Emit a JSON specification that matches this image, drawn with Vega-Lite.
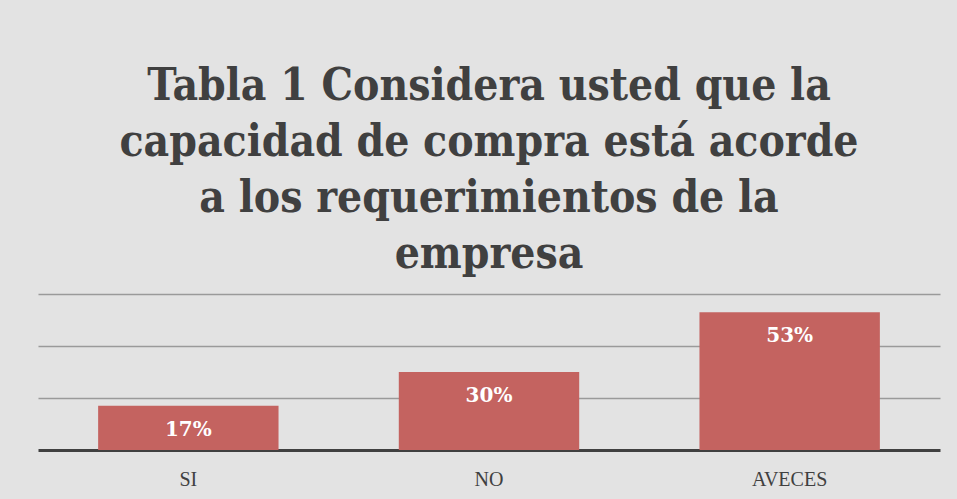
{
  "$schema": "https://vega.github.io/schema/vega-lite/v6.json",
  "width": 902,
  "height": 156,
  "padding": {"left": 38, "right": 17, "top": 65, "bottom": 11},
  "background": "#e3e3e3",
  "title": {
    "text": ["Tabla 1 Considera usted que la", "capacidad de compra está acorde", "a los requerimientos de la", "empresa"],
    "anchor": "middle",
    "font": "DejaVu Serif Condensed",
    "fontSize": 44,
    "fontWeight": "bold",
    "color": "#404040",
    "lineHeight": 56,
    "offset": 17
  },
  "data": {
    "values": [
      {"categoria": "SI", "porcentaje": 0.17},
      {"categoria": "NO", "porcentaje": 0.30},
      {"categoria": "AVECES", "porcentaje": 0.53}
    ]
  },
  "encoding": {
    "x": {
      "field": "categoria",
      "type": "nominal",
      "sort": ["SI", "NO", "AVECES"],
      "scale": {"paddingInner": 0.4, "paddingOuter": 0.2},
      "axis": {
        "title": null,
        "labelAngle": 0,
        "labelFont": "Liberation Serif",
        "labelFontSize": 20,
        "labelColor": "#404040",
        "labelPadding": 19,
        "ticks": false,
        "domainColor": "#404040",
        "domainWidth": 3
      }
    },
    "y": {
      "field": "porcentaje",
      "type": "quantitative",
      "scale": {"domain": [0, 0.6]},
      "axis": {
        "title": null,
        "labels": false,
        "ticks": false,
        "domain": false,
        "values": [0.2, 0.4, 0.6],
        "gridColor": "#9a9a9a",
        "gridWidth": 1.5
      }
    }
  },
  "layer": [
    {"mark": {"type": "bar", "color": "#c46360"}},
    {
      "mark": {
        "type": "text",
        "baseline": "middle",
        "dy": 24,
        "color": "white",
        "font": "DejaVu Serif",
        "fontWeight": "bold",
        "fontSize": 20
      },
      "encoding": {"text": {"field": "porcentaje", "type": "quantitative", "format": ".0%"}}
    }
  ],
  "config": {"view": {"stroke": null}}
}
